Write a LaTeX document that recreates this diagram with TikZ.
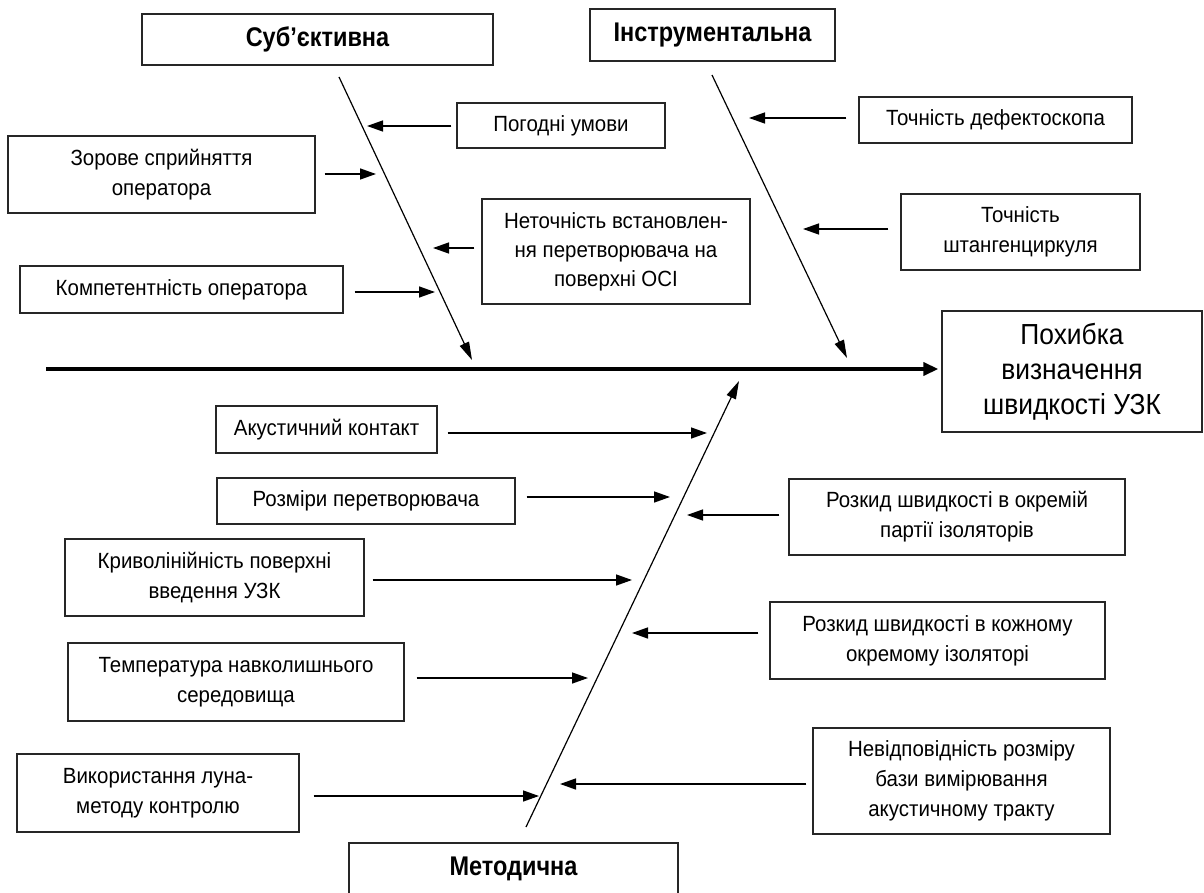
\documentclass[tikz,border=0pt]{standalone}
\usepackage{fontspec}
\setmainfont{Liberation Sans}[FakeStretch=0.93]
\newfontfamily\titlefont{Liberation Sans}[FakeStretch=0.87]
\newfontfamily\resultfont{Liberation Sans}[FakeStretch=0.91]
\usetikzlibrary{arrows.meta}
\begin{document}
\begin{tikzpicture}[x=1pt,y=-1pt,
  box/.style={draw=black!85, line width=1.3pt, inner sep=0pt, align=center, font=\fontsize{22}{30}\selectfont},
  titlebox/.style={box, font=\titlefont\fontsize{27}{30}\selectfont\bfseries},
  arr/.style={line width=1.4pt, -{Triangle[length=16pt,width=11pt]}},
  spine/.style={line width=1.2pt, -{Triangle[length=18pt,width=10pt]}},
  mainaxis/.style={line width=3.5pt, -{Triangle[length=15pt,width=13pt]}}
]
\useasboundingbox (0,0) rectangle (1204,893);
\fill[white] (0,0) rectangle (1204,893);

% category boxes
\node[titlebox, minimum width=351pt, minimum height=51pt] (subj) at (317.5,39.5) {Суб’єктивна};
\node[titlebox, minimum width=245pt, minimum height=52pt] (instr) at (712.5,35) {Інструментальна};
\begin{scope}
\clip (0,0) rectangle (1204,893);
\node[titlebox, minimum width=329pt, minimum height=52pt] (metod) at (513.5,869) {Методична};
\end{scope}

% result
\node[box, font=\resultfont\fontsize{29}{35}\selectfont, minimum width=260pt, minimum height=121pt] (result) at (1072,371.5) {Похибка\\визначення\\швидкості УЗК};

% top causes
\node[box, minimum width=208pt, minimum height=45pt] (pogodni) at (561,125.5) {Погодні умови};
\node[box, minimum width=273pt, minimum height=46pt] (defekt) at (995.5,120) {Точність дефектоскопа};
\node[box, minimum width=307pt, minimum height=77pt] (zor) at (161.5,174.5) {Зорове сприйняття\\оператора};
\node[box, font=\fontsize{22}{29}\selectfont, minimum width=268pt, minimum height=105pt] (netoch) at (616,251.5) {Неточність встановлен-\\ня перетворювача на\\поверхні ОСІ};
\node[box, minimum width=239pt, minimum height=76pt] (shtang) at (1020.5,232) {Точність\\штангенциркуля};
\node[box, minimum width=323pt, minimum height=47pt] (komp) at (181.5,289.5) {Компетентність оператора};

% bottom causes
\node[box, minimum width=221pt, minimum height=47pt] (akust) at (326.5,429.5) {Акустичний контакт};
\node[box, minimum width=298pt, minimum height=46pt] (rozm) at (366,501) {Розміри перетворювача};
\node[box, minimum width=299pt, minimum height=77pt] (kryvo) at (214.5,577.5) {Криволінійність поверхні\\введення УЗК};
\node[box, minimum width=336pt, minimum height=78pt] (temp) at (236,682) {Температура навколишнього\\середовища};
\node[box, minimum width=282pt, minimum height=78pt] (vykor) at (158,793) {Використання луна-\\методу контролю};
\node[box, minimum width=336pt, minimum height=76pt] (rozk1) at (957,517) {Розкид швидкості в окремій\\партії ізоляторів};
\node[box, minimum width=335pt, minimum height=77pt] (rozk2) at (937.5,640.5) {Розкид швидкості в кожному\\окремому ізоляторі};
\node[box, minimum width=297pt, minimum height=106pt] (nevid) at (961.5,781) {Невідповідність розміру\\бази вимірювання\\акустичному тракту};

% spines
\coordinate (axs) at (46,369);
\coordinate (s1a) at (339,77);
\coordinate (s1b) at (472,360);
\coordinate (s2a) at (712,75);
\coordinate (s2b) at (847,358);
\coordinate (s3a) at (526,827);
\coordinate (s3b) at (739,381);
\draw[mainaxis, shorten >=3pt] (axs) -- (result.west |- axs);
\draw[spine] (s1a) -- (s1b);
\draw[spine] (s2a) -- (s2b);
\draw[spine] (s3a) -- (s3b);

% arrow tips on spines
\coordinate (tpog) at (367,126);
\coordinate (tzor) at (376,174);
\coordinate (tnet) at (433,248);
\coordinate (tkom) at (435,292);
\coordinate (tdef) at (749,118);
\coordinate (tsht) at (803,229);
\coordinate (takus) at (707,433);
\coordinate (troz) at (670,497);
\coordinate (tkry) at (632,580);
\coordinate (ttem) at (588,678);
\coordinate (tvyk) at (539,796);
\coordinate (tr1) at (687,515);
\coordinate (tr2) at (632,633);
\coordinate (tnev) at (560,784);

\draw[arr, shorten <=5pt] (pogodni.west |- tpog) -- (tpog);
\draw[arr, shorten <=9pt] (zor.east |- tzor) -- (tzor);
\draw[arr, shorten <=7pt] (netoch.west |- tnet) -- (tnet);
\draw[arr, shorten <=11pt] (komp.east |- tkom) -- (tkom);
\draw[arr, shorten <=12pt] (defekt.west |- tdef) -- (tdef);
\draw[arr, shorten <=12pt] (shtang.west |- tsht) -- (tsht);

\draw[arr, shorten <=10pt] (akust.east |- takus) -- (takus);
\draw[arr, shorten <=11pt] (rozm.east |- troz) -- (troz);
\draw[arr, shorten <=8pt] (kryvo.east |- tkry) -- (tkry);
\draw[arr, shorten <=12pt] (temp.east |- ttem) -- (ttem);
\draw[arr, shorten <=14pt] (vykor.east |- tvyk) -- (tvyk);
\draw[arr, shorten <=9pt] (rozk1.west |- tr1) -- (tr1);
\draw[arr, shorten <=11pt] (rozk2.west |- tr2) -- (tr2);
\draw[arr, shorten <=6pt] (nevid.west |- tnev) -- (tnev);
\end{tikzpicture}
\end{document}
